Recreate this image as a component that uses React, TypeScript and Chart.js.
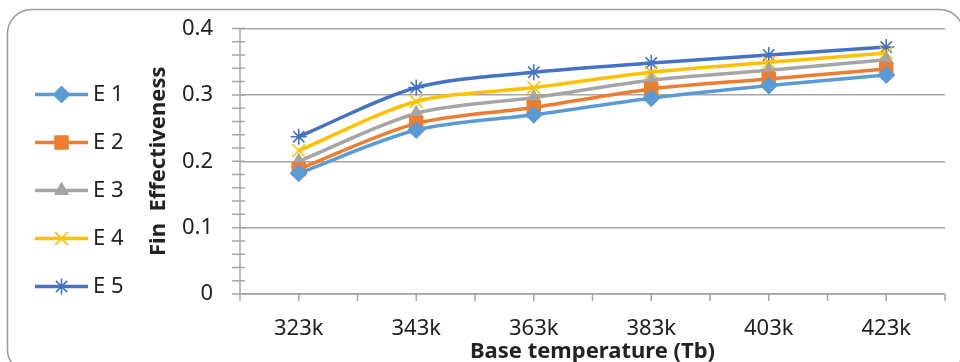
import React, { useEffect, useRef } from "react";
import { Chart, registerables } from "chart.js";
import { drawPoint } from "chart.js/helpers";

Chart.register(...registerables);

const categories = ["323k", "343k", "363k", "383k", "403k", "423k"];
const seriesNames = ["E 1", "E 2", "E 3", "E 4", "E 5"];
const e1 = [0.182, 0.247, 0.27, 0.295, 0.314, 0.33];
const e2 = [0.188, 0.257, 0.281, 0.309, 0.324, 0.339];
const e3 = [0.2, 0.272, 0.296, 0.322, 0.337, 0.353];
const e4 = [0.216, 0.29, 0.311, 0.334, 0.349, 0.363];
const e5 = [0.237, 0.311, 0.334, 0.348, 0.36, 0.372];
const yMin = 0;
const yMax = 0.4;
const yMajor = 0.1;
const yMinor = 0.02;

const colors = ["#5B9BD5", "#ED7D31", "#A5A5A5", "#FFC000", "#4472C4"];
const pointStyles = ["rectRot", "rect", "triangle", "crossRot", "star"];
const pointRadii = [8.5, 9.5, 8, 9, 8];
const pointBorders = [1, 1, 1, 1.6, 1.6];
const AXIS_COLOR = "#A6A6A6";
const FONT = "'Noto Sans', 'Open Sans', sans-serif";

const framePlugin = {
  id: "frame",
  beforeDraw(chart: any) {
    const ctx = chart.ctx;
    ctx.save();
    ctx.fillStyle = "#ffffff";
    ctx.fillRect(0, 0, chart.width, chart.height);
    ctx.strokeStyle = "#9A9A9A";
    ctx.lineWidth = 1.5;
    ctx.beginPath();
    (ctx as any).roundRect(7.5, 9.5, 956, 364, 24);
    ctx.stroke();
    ctx.restore();
  },
};

const axesPlugin = {
  id: "axesTicks",
  beforeDatasetsDraw(chart: any) {
    const ctx = chart.ctx;
    const x = chart.scales.x;
    const y = chart.scales.y;
    const area = chart.chartArea;
    ctx.save();
    ctx.strokeStyle = AXIS_COLOR;
    ctx.lineWidth = 1.5;
    ctx.beginPath();
    ctx.moveTo(area.left, y.getPixelForValue(yMax));
    ctx.lineTo(area.left, y.getPixelForValue(yMin));
    ctx.moveTo(area.left, y.getPixelForValue(yMin));
    ctx.lineTo(area.right, y.getPixelForValue(yMin));
    const nMinor = Math.round((yMax - yMin) / yMinor);
    for (let i = 0; i <= nMinor; i++) {
      const py = y.getPixelForValue(yMin + i * yMinor);
      ctx.moveTo(area.left - 8, py);
      ctx.lineTo(area.left + 5, py);
    }
    const base = y.getPixelForValue(yMin);
    for (let i = 0; i <= categories.length * 2; i++) {
      const px = x.getPixelForValue(i / 2 - 0.5);
      ctx.moveTo(px, base);
      ctx.lineTo(px, base + 7);
    }
    ctx.stroke();
    ctx.restore();
  },
};

const legendPlugin = {
  id: "sideLegend",
  afterDraw(chart: any) {
    const ctx = chart.ctx;
    ctx.save();
    chart.data.datasets.forEach((ds: any, i: number) => {
      const cy = 94.5 + i * 48;
      ctx.strokeStyle = ds.borderColor;
      ctx.lineWidth = ds.borderWidth;
      ctx.beginPath();
      ctx.moveTo(35, cy);
      ctx.lineTo(88, cy);
      ctx.stroke();
      ctx.fillStyle = ds.pointBackgroundColor;
      ctx.strokeStyle = ds.pointBorderColor;
      ctx.lineWidth = ds.pointBorderWidth;
      drawPoint(ctx, { pointStyle: ds.pointStyle, radius: ds.pointRadius, rotation: 0, borderWidth: ds.pointBorderWidth } as any, 61.5, cy);
      ctx.fillStyle = "#222";
      ctx.font = `22px ${FONT}`;
      ctx.textBaseline = "middle";
      ctx.textAlign = "left";
      ctx.fillText(ds.label, 93, cy);
    });
    ctx.restore();
  },
};

export default function App() {
  const ref = useRef<HTMLCanvasElement | null>(null);
  useEffect(() => {
    if (!ref.current) return;
    const seriesValues = [e1, e2, e3, e4, e5];
    const chart = new Chart(ref.current, {
      type: "line",
      data: {
        labels: categories,
        datasets: seriesValues.map((vals, i) => ({
          label: seriesNames[i],
          data: vals,
          borderColor: colors[i],
          backgroundColor: colors[i],
          borderWidth: 3.5,
          tension: 0.3,
          pointStyle: pointStyles[i] as any,
          pointRadius: pointRadii[i],
          pointBackgroundColor: colors[i],
          pointBorderColor: colors[i],
          pointBorderWidth: pointBorders[i],
          fill: false,
        })),
      },
      options: {
        animation: false,
        responsive: false,
        devicePixelRatio: 1,
        layout: { autoPadding: false, padding: { left: 130, top: 28.5, right: 15, bottom: 0 } },
        plugins: { legend: { display: false }, tooltip: { enabled: false } },
        scales: {
          x: {
            type: "category",
            offset: true,
            grid: { display: false, drawTicks: false },
            border: { display: false },
            ticks: { color: "#222", font: { family: FONT, size: 22 }, padding: 22, maxRotation: 0 },
            title: {
              display: true,
              text: "Base temperature (Tb)",
              color: "#222",
              font: { family: FONT, size: 22, weight: "bold" },
              padding: { top: 0, bottom: -3 },
            },
            afterFit(s: any) {
              s.height = 68;
            },
          },
          y: {
            min: yMin,
            max: yMax,
            grid: { color: AXIS_COLOR, lineWidth: 1.5, drawTicks: false },
            border: { display: false },
            ticks: {
              stepSize: yMajor,
              color: "#222",
              font: { family: FONT, size: 22 },
              padding: 27,
              callback: (v: any) => String(Math.round(Number(v) * 10) / 10),
            },
            title: {
              display: true,
              text: "Fin  Effectiveness",
              color: "#222",
              font: { family: FONT, size: 22, weight: "bold" },
              padding: { top: 16, bottom: 0 },
            },
            afterFit(s: any) {
              s.width = 110;
              s.paddingTop = 0;
              s.paddingBottom = 0;
            },
          },
        },
      },
      plugins: [framePlugin, axesPlugin, legendPlugin],
    });
    return () => chart.destroy();
  }, []);
  return (
    <div style={{ position: "absolute", left: 0, top: 0, width: 960, height: 362, overflow: "hidden" }}>
      <canvas ref={ref} width={960} height={362} style={{ width: 960, height: 362, display: "block" }} />
    </div>
  );
}
